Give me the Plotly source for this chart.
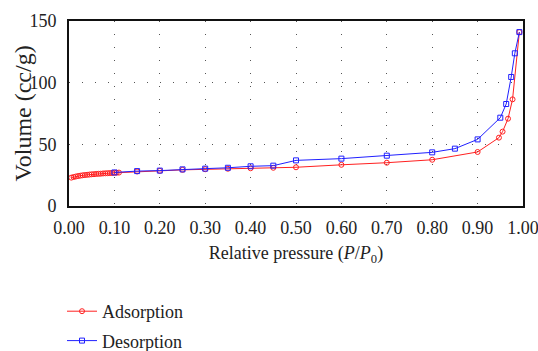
import plotly.graph_objects as go

# Adsorption branch
ads_x = [0.005, 0.01, 0.015, 0.02, 0.025, 0.03, 0.035, 0.04, 0.045, 0.05, 0.055, 0.06,
         0.065, 0.07, 0.075, 0.08, 0.085, 0.09, 0.095, 0.10, 0.105, 0.11,
         0.15, 0.20, 0.25, 0.30, 0.35, 0.40, 0.45, 0.50, 0.60, 0.70, 0.80, 0.90,
         0.947, 0.955, 0.967, 0.977, 0.992]
ads_y = [23.0, 23.5, 23.9, 24.3, 24.6, 24.9, 25.1, 25.3, 25.5, 25.7, 25.8, 26.0,
         26.1, 26.2, 26.4, 26.5, 26.6, 26.7, 26.8, 26.9, 27.0, 27.1,
         28.0, 28.5, 29.3, 29.8, 30.2, 30.6, 31.0, 31.4, 33.4, 35.1, 37.5, 43.8,
         55.4, 60.3, 70.8, 86.5, 141.0]

# Desorption branch
des_x = [0.10, 0.15, 0.20, 0.25, 0.30, 0.35, 0.40, 0.45, 0.50, 0.60, 0.70, 0.80,
         0.85, 0.90, 0.95, 0.963, 0.974, 0.982, 0.992]
des_y = [27.2, 28.3, 28.7, 29.7, 30.3, 31.0, 32.2, 32.7, 37.0, 38.4, 40.8, 43.5,
         46.5, 54.0, 71.6, 82.7, 104.6, 123.8, 141.0]

x_ticks = [0.0, 0.1, 0.2, 0.3, 0.4, 0.5, 0.6, 0.7, 0.8, 0.9, 1.0]
x_labels = ["0.00", "0.10", "0.20", "0.30", "0.40", "0.50", "0.60", "0.70", "0.80", "0.90", "1.00"]
y_ticks = [0, 50, 100, 150]
y_title = "Volume (cc/g)"

FONT = "Liberation Serif, Times New Roman, serif"

fig = go.Figure()
fig.add_trace(go.Scatter(
    x=ads_x, y=ads_y, mode="lines+markers", name="Adsorption",
    legendgroup="a",
    line=dict(color="#ff2020", width=1),
    marker=dict(symbol="circle-open", size=5, color="#ff2020", line=dict(width=1)),
))
fig.add_trace(go.Scatter(
    x=des_x, y=des_y, mode="lines+markers", name="Desorption",
    legendgroup="d",
    line=dict(color="#2020ff", width=1),
    marker=dict(symbol="square-open", size=5, color="#2020ff", line=dict(width=1)),
))

fig.update_layout(
    width=538, height=351,
    margin=dict(l=69, r=15, t=21, b=145, autoexpand=False),
    paper_bgcolor="white", plot_bgcolor="white",
    font=dict(family=FONT, size=18, color="#222"),
    showlegend=True,
    legend=dict(
        x=62 / 538, xref="container", xanchor="left",
        y=58 / 351, yref="container", yanchor="top",
        font=dict(family=FONT, size=18, color="#222"),
        tracegroupgap=3, itemwidth=30,
        bgcolor="rgba(0,0,0,0)",
    ),
    annotations=[dict(
        text=y_title, textangle=-90, showarrow=False,
        xref="paper", yref="paper", x=0, y=0.5, xanchor="center", yanchor="middle",
        xshift=-47, font=dict(family=FONT, size=24, color="#222"),
    )],
)

fig.update_xaxes(
    range=[0, 1], tickvals=x_ticks, ticktext=x_labels, tickangle=0,
    automargin=False, ticklabeloverflow="allow",
    showline=True, linecolor="#111", linewidth=2, mirror=True,
    showgrid=True, gridcolor="#555", gridwidth=1, griddash="1px,12px",
    zeroline=False, ticks="", ticklabelstandoff=4,
    tickfont=dict(family=FONT, size=18, color="#222"),
    title=dict(text="Relative pressure (<i>P</i>/<i>P</i><sub>0</sub>)",
               font=dict(family=FONT, size=18, color="#222"), standoff=10),
)
fig.update_yaxes(
    range=[0, 150], tickvals=y_ticks, automargin=False, ticklabeloverflow="allow",
    showline=True, linecolor="#111", linewidth=2, mirror=True,
    showgrid=True, gridcolor="#555", gridwidth=1, griddash="1px,12px",
    zeroline=False, ticks="", ticklabelstandoff=7,
    tickfont=dict(family=FONT, size=18, color="#222"),
)

fig.write_html("out.html")
